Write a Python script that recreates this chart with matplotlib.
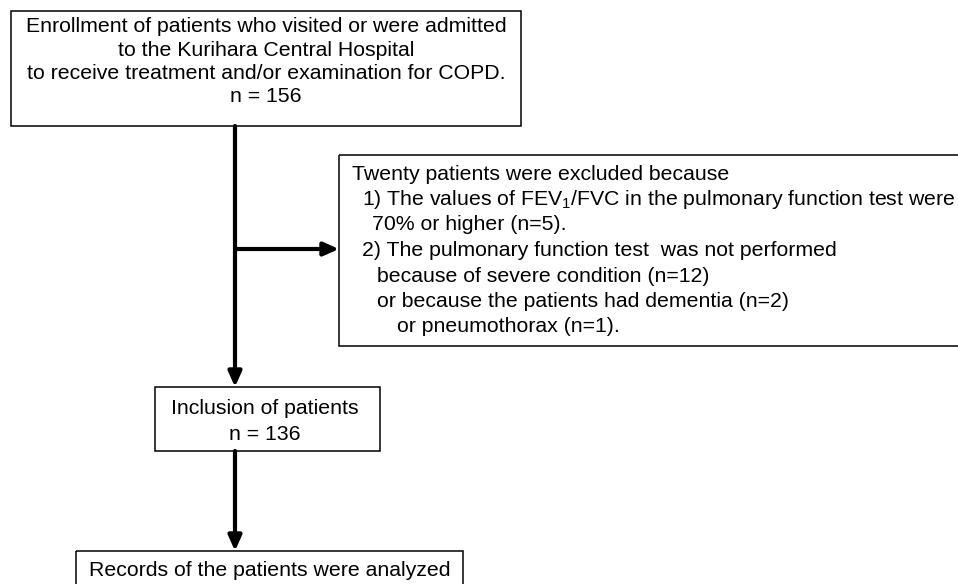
import matplotlib.pyplot as plt
from matplotlib.patches import Rectangle

plt.rcParams['font.family'] = ['Liberation Sans', 'DejaVu Sans']
plt.rcParams['mathtext.fontset'] = 'custom'
plt.rcParams['mathtext.rm'] = 'Liberation Sans'
plt.rcParams['mathtext.it'] = 'Liberation Sans'

# flowchart content
n_enrolled = 156
n_included = 136
n_fev = 5
n_severe = 12
n_dementia = 2
n_pneumo = 1

top_lines = [
    "Enrollment of patients who visited or were admitted",
    "to the Kurihara Central Hospital",
    "to receive treatment and/or examination for COPD.",
    f"n = {n_enrolled}",
]
excl_lines = [
    "Twenty patients were excluded because",
    r"1) The values of FEV$_{\mathregular{1}}$/FVC in the pulmonary function test were",
    f"70% or higher (n={n_fev}).",
    "2) The pulmonary function test  was not performed",
    f"because of severe condition (n={n_severe})",
    f"or because the patients had dementia (n={n_dementia})",
    f"or pneumothorax (n={n_pneumo}).",
]
excl_indent = [352, 362, 372, 362, 377, 377, 397]
incl_lines = ["Inclusion of patients", f"n = {n_included}"]
final_line = "Records of the patients were analyzed"

fig = plt.figure(figsize=(9.58, 5.84), dpi=100)
ax = fig.add_axes([0, 0, 1, 1])
ax.set_xlim(0, 958)
ax.set_ylim(584, 0)
ax.axis('off')

fs = 15.3
box_kw = dict(fill=False, edgecolor='black', linewidth=1.1)

# boxes (x, y, w, h) in pixel units
ax.add_patch(Rectangle((11, 11), 510, 115, **box_kw))
ax.add_patch(Rectangle((339, 155), 640, 191, clip_on=True, **box_kw))
ax.add_patch(Rectangle((155, 387), 225, 64, **box_kw))
ax.add_patch(Rectangle((76, 551), 387, 60, clip_on=True, **box_kw))

# texts
for i, s in enumerate(top_lines):
    ax.text(266, 27 + i * 23.3, s, ha='center', va='center', fontsize=fs)
for i, (s, x) in enumerate(zip(excl_lines, excl_indent)):
    ax.text(x, 174 + i * 25.5, s, ha='left', va='center', fontsize=fs)
for i, s in enumerate(incl_lines):
    ax.text(265, 409 + i * 25, s, ha='center', va='center', fontsize=fs)
ax.text(89, 571, final_line, ha='left', va='center', fontsize=fs)

# arrows
arrow_kw = dict(arrowstyle='-|>,head_length=0.9,head_width=0.4',
                color='black', linewidth=3, shrinkA=0, shrinkB=0)
ax.annotate('', xy=(235, 387), xytext=(235, 126), arrowprops=arrow_kw)
ax.annotate('', xy=(339, 249), xytext=(235, 249), arrowprops=arrow_kw)
ax.annotate('', xy=(235, 551), xytext=(235, 451), arrowprops=arrow_kw)

fig.savefig('out.png', dpi=100)
